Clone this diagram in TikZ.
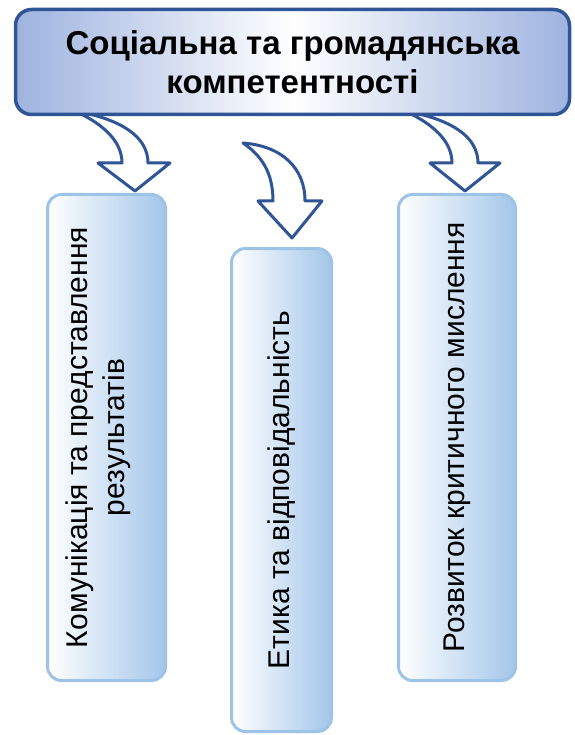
\documentclass[tikz,border=0pt]{standalone}
\usepackage{fontspec}
\setmainfont{Liberation Sans}
\definecolor{darkframe}{RGB}{47,85,151}
\definecolor{titleblue}{RGB}{158,179,223}
\definecolor{lightframe}{RGB}{157,195,230}
\definecolor{boxblue}{RGB}{163,198,234}
\begin{document}
\begin{tikzpicture}[x=1pt,y=-1pt,every node/.style={inner sep=0,outer sep=0},
  titlebox/.style={rectangle,rounded corners=16pt,draw=darkframe,line width=3.5pt,
    left color=titleblue,right color=titleblue,middle color=white,
    minimum width=554pt,minimum height=105pt,align=center,
    font=\bfseries\fontsize{33}{39}\selectfont},
  itembox/.style={rectangle,rounded corners=14pt,draw=lightframe,line width=3pt,
    left color=white,right color=boxblue,minimum height=486pt},
  itemtext/.style={rotate=90,align=center,font=\fontsize{30}{37}\selectfont},
  bentarrow/.style={draw=darkframe,fill=white,line width=3pt,line join=round}]
  \useasboundingbox (0,0) rectangle (574,735);

  %% Lower boxes.
  \node[itembox,minimum width=118pt] (B1) at (106.5,437.5) {};
  \node[itembox,minimum width=100pt,minimum height=483pt] (B2) at (281.5,490) {};
  \node[itembox,minimum width=117pt] (B3) at (457,437.5) {};
  \node[itemtext] (T1) at (98.5,437.5) {Комунікація та представлення\\результатів};
  \node[itemtext] (T2) at (B2) {Етика та відповідальність};
  \node[itemtext] (T3) at (B3) {Розвиток критичного мислення};

  %% Arrow tips.
  \coordinate (A1) at (135,191);
  \coordinate (A2) at (292,238);
  \coordinate (A3) at (465,191);

  \draw[bentarrow,shift={(A1)}] (0,0) -- (35,-28) -- (13,-28)
    .. controls (13,-55) and (-15,-72) .. (-60,-80)
    .. controls (-32,-67) and (-13,-50) .. (-13,-28) -- (-37,-28) -- cycle;
  \draw[bentarrow,shift={(A2)}] (0,0) -- (30,-37) -- (13,-37)
    .. controls (13,-70) and (-10,-92) .. (-49,-95)
    .. controls (-30,-82) and (-19,-65) .. (-19,-37) -- (-34,-37) -- cycle;
  \draw[bentarrow,shift={(A3)}] (0,0) -- (35,-28) -- (13,-28)
    .. controls (13,-55) and (-15,-72) .. (-60,-80)
    .. controls (-32,-67) and (-13,-50) .. (-13,-28) -- (-35,-28) -- cycle;

  %% Top box.
  \node[titlebox] (TOP) at (292.5,62) {Соціальна та громадянська\\компетентності};
\end{tikzpicture}
\end{document}
